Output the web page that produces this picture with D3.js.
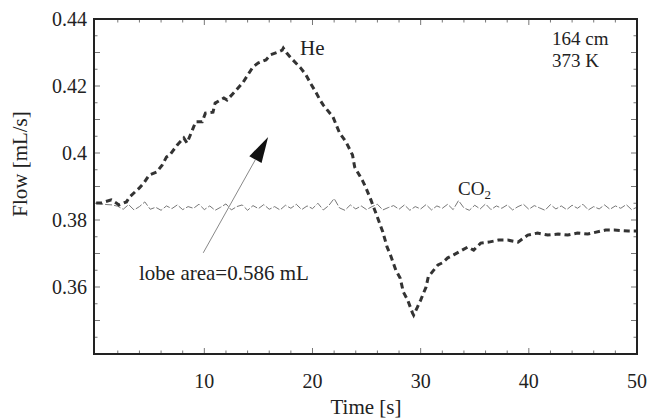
<!DOCTYPE html>
<html><head><meta charset="utf-8">
<script src="https://cdn.jsdelivr.net/npm/d3@7"></script>
</head><body style="margin:0;background:#fff">
<svg id="chart" width="648" height="420"></svg>
<script>
// ---- data ----
const heTime = [0,0.5,1.4,1.85,2.1,2.8,3.1,4.0,4.4,4.9,5.6,6.1,6.5,6.8,7.5,8.1,8.4,8.9,9.2,9.8,10.1,10.8,11.0,11.8,12.1,12.7,13.2,13.6,14.5,15.0,15.7,16.1,16.8,17.2,17.3,17.6,18.0,18.9,19.4,19.8,20.3,20.7,21.0,21.9,22.5,23.1,23.7,23.9,24.6,24.9,25.4,26.2,26.5,26.9,27.2,27.7,28.1,28.4,28.8,29.25,29.35,29.7,30.0,30.5,30.7,31.6,32.0,32.5,33.05,34.35,34.9,35.55,36.3,37.2,38.05,39.0,39.9,40.8,41.75,42.7,43.6,44.5,45.45,47.1,47.9,49.2,50];
const heFlow = [0.3851,0.3851,0.3860,0.3851,0.3845,0.3854,0.3869,0.3896,0.3910,0.3934,0.3943,0.3964,0.3988,0.3994,0.4024,0.4045,0.4030,0.4069,0.4093,0.4093,0.4119,0.4122,0.4149,0.4164,0.4158,0.4179,0.4197,0.4212,0.4257,0.4269,0.4278,0.4293,0.4301,0.4307,0.4313,0.4299,0.4284,0.4254,0.4233,0.4209,0.4182,0.4158,0.4143,0.4107,0.4060,0.4033,0.3994,0.3958,0.3919,0.3899,0.3860,0.3791,0.3764,0.3719,0.3696,0.3651,0.3627,0.3585,0.3561,0.3522,0.3516,0.3540,0.3561,0.3600,0.3630,0.3666,0.3672,0.3687,0.3696,0.3719,0.3710,0.3731,0.3734,0.3740,0.3740,0.3734,0.3755,0.3761,0.3755,0.3758,0.3755,0.3761,0.3758,0.3770,0.3770,0.3767,0.3767];
const co2Time = d3.range(0, 50.25, 0.5);
const co2Flow = [0.3850,0.3848,0.3846,0.3845,0.3841,0.3832,0.3846,0.3830,0.3840,0.3854,0.3832,0.3838,0.3829,0.3842,0.3834,0.3845,0.3831,0.3840,0.3835,0.3847,0.3831,0.3842,0.3829,0.3838,0.3848,0.3830,0.3840,0.3845,0.3829,0.3843,0.3834,0.3846,0.3832,0.3840,0.3830,0.3844,0.3835,0.3847,0.3831,0.3842,0.3834,0.3850,0.3830,0.3843,0.3864,0.3836,0.3829,0.3845,0.3833,0.3842,0.3831,0.3840,0.3847,0.3830,0.3837,0.3843,0.3832,0.3845,0.3829,0.3840,0.3833,0.3846,0.3830,0.3842,0.3835,0.3847,0.3831,0.3858,0.3836,0.3829,0.3844,0.3833,0.3848,0.3831,0.3842,0.3835,0.3845,0.3830,0.3840,0.3847,0.3832,0.3843,0.3836,0.3829,0.3846,0.3833,0.3842,0.3831,0.3844,0.3835,0.3847,0.3830,0.3840,0.3833,0.3845,0.3832,0.3842,0.3835,0.3846,0.3831,0.3838];
const xTickLabels = [10, 20, 30, 40, 50];
const yTickLabels = [0.36, 0.38, 0.40, 0.42, 0.44];
const yTickText = ["0.36", "0.38", "0.4", "0.42", "0.44"];

// ---- layout ----
const FONT = '"Liberation Serif"';
const svg = d3.select("#chart");
const x = d3.scaleLinear().domain([-0.2, 50]).range([94, 637]);
const y = d3.scaleLinear().domain([0.34, 0.44]).range([354, 19]);

// ticks (inward, all sides)
const tickCol = "#777";
const xMinor = d3.range(2, 50, 2);
const yMinor = d3.range(0.345, 0.44, 0.005);
const g = svg.append("g");
xMinor.forEach(v => {
  const len = (Math.abs(v % 10) < 1e-6) ? 6 : 3.5;
  g.append("line").attr("x1", x(v)).attr("x2", x(v)).attr("y1", y(0.34)).attr("y2", y(0.34) - len).attr("stroke", tickCol).attr("stroke-width", 1);
  g.append("line").attr("x1", x(v)).attr("x2", x(v)).attr("y1", y(0.44)).attr("y2", y(0.44) + len).attr("stroke", tickCol).attr("stroke-width", 1);
});
yMinor.forEach(v => {
  const major = Math.abs(Math.round(v * 1000) % 10) < 1;
  const len = major ? 6 : 3.5;
  g.append("line").attr("x1", x(-0.2)).attr("x2", x(-0.2) + len).attr("y1", y(v)).attr("y2", y(v)).attr("stroke", tickCol).attr("stroke-width", 1);
  g.append("line").attr("x1", x(50)).attr("x2", x(50) - len).attr("y1", y(v)).attr("y2", y(v)).attr("stroke", tickCol).attr("stroke-width", 1);
});

// tick labels
svg.append("g").selectAll("text").data(xTickLabels).join("text")
  .attr("x", d => x(d)).attr("y", 388).attr("text-anchor", "middle")
  .style("font-family", FONT).attr("font-size", 20).attr("fill", "#222").text(d => d);
svg.append("g").selectAll("text").data(yTickLabels).join("text")
  .attr("x", 87).attr("y", d => y(d)).attr("dy", "0.35em").attr("text-anchor", "end")
  .style("font-family", FONT).attr("font-size", 20).attr("fill", "#222").text((d, i) => yTickText[i]);

// axis titles
svg.append("text").attr("x", 366).attr("y", 414).attr("text-anchor", "middle")
  .style("font-family", FONT).attr("font-size", 21).attr("fill", "#222").text("Time [s]");
svg.append("text").attr("transform", "translate(27,164) rotate(-90)").attr("text-anchor", "middle")
  .style("font-family", FONT).attr("font-size", 21).attr("fill", "#222").text("Flow [mL/s]");

// lines
const line = d3.line().x(d => x(d[0])).y(d => y(d[1]));
svg.append("path").datum(co2Time.map((t, i) => [t, co2Flow[i]]))
  .attr("d", line).attr("fill", "none").attr("stroke", "#777").attr("stroke-width", 1)
  .attr("stroke-dasharray", "7,2");
svg.append("path").datum(heTime.map((t, i) => [t, heFlow[i]]))
  .attr("d", line).attr("fill", "none").attr("stroke", "#333").attr("stroke-width", 3)
  .attr("stroke-dasharray", "6,4");

// arrow
const ax0 = x(9.9), ay0 = y(0.3702), ax1 = x(15.9), ay1 = y(0.4048);
const ang = Math.atan2(ay1 - ay0, ax1 - ax0);
const hl = 26, hw = 7;
const bx = ax1 - hl * Math.cos(ang), by = ay1 - hl * Math.sin(ang);
svg.append("line").attr("x1", ax0).attr("y1", ay0).attr("x2", bx).attr("y2", by)
  .attr("stroke", "#888").attr("stroke-width", 1);
svg.append("path").attr("d", `M${ax1},${ay1}L${bx + hw * Math.sin(ang)},${by - hw * Math.cos(ang)}L${bx - hw * Math.sin(ang)},${by + hw * Math.cos(ang)}Z`)
  .attr("fill", "#111");

// annotations
svg.append("text").attr("x", 300).attr("y", 55).style("font-family", FONT).attr("font-size", 21).attr("fill", "#222").text("He");
svg.append("text").attr("x", 552).attr("y", 45).style("font-family", FONT).attr("font-size", 19).attr("fill", "#222").text("164 cm");
svg.append("text").attr("x", 552).attr("y", 67).style("font-family", FONT).attr("font-size", 19).attr("fill", "#222").text("373 K");
const co2 = svg.append("text").attr("x", 458).attr("y", 195).style("font-family", FONT).attr("font-size", 19).attr("fill", "#222");
co2.append("tspan").text("CO");
co2.append("tspan").attr("font-size", 13).attr("dy", 4).text("2");
svg.append("text").attr("x", 139).attr("y", 280).style("font-family", FONT).attr("font-size", 21).attr("fill", "#222").text("lobe area=0.586 mL");

// frame
svg.append("rect").attr("x", x(-0.2)).attr("y", y(0.44)).attr("width", x(50) - x(-0.2)).attr("height", y(0.34) - y(0.44))
  .attr("fill", "none").attr("stroke", "#222").attr("stroke-width", 2);
</script>
</body></html>
